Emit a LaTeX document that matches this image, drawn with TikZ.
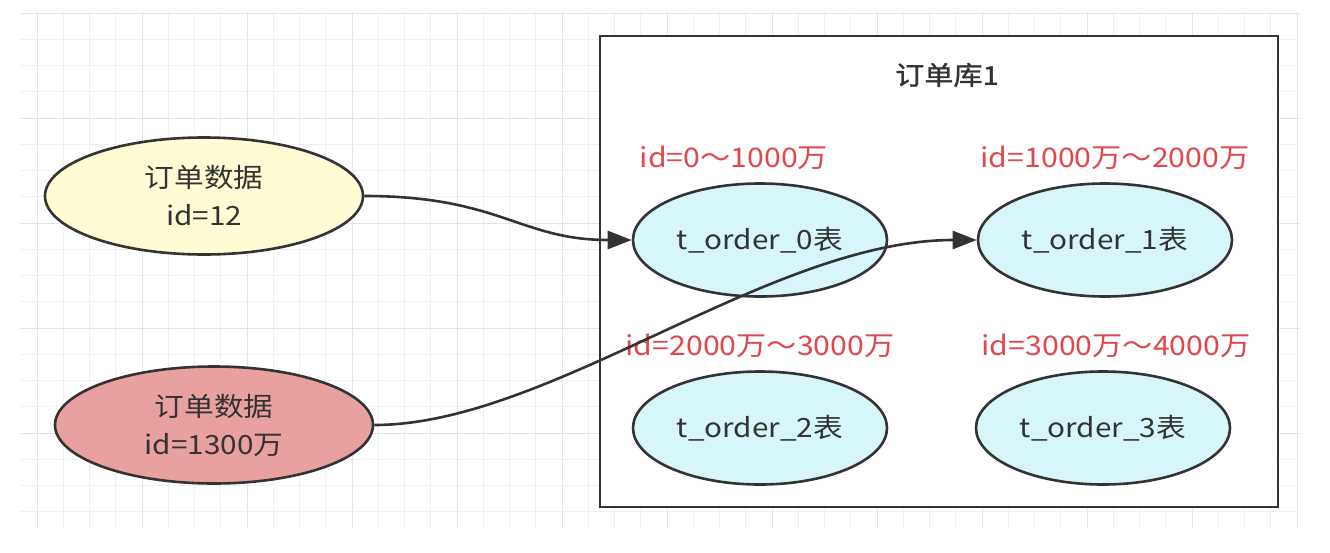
\documentclass[tikz,border=0pt]{standalone}
\usepackage{fontspec}
\setmainfont{Noto Sans CJK SC}[FakeStretch=1.12]
\newfontfamily\titlefont{Noto Sans CJK SC}[FakeStretch=1.12,FakeBold=1.2]
\usetikzlibrary{shapes.geometric,arrows.meta}
\definecolor{ink}{HTML}{333333}
\definecolor{redtxt}{HTML}{E0484E}
\definecolor{yellowfill}{HTML}{FFFBD2}
\definecolor{redfill}{HTML}{E8A0A0}
\definecolor{cyanfill}{HTML}{D6F6FA}
\definecolor{gridminor}{HTML}{F0F0F0}
\definecolor{gridmajor}{HTML}{E4E4E4}
\tikzset{
  oval/.style={ellipse,draw=ink,line width=2.6pt,inner sep=0pt,text=ink,align=center,
    font=\fontsize{26.5}{38}\selectfont},
  dataoval/.style={oval,minimum width=318pt,minimum height=117pt},
  taboval/.style={oval,minimum width=254pt,minimum height=113pt},
  rangelbl/.style={text=redtxt,font=\fontsize{27}{30}\selectfont,inner sep=0pt},
  flow/.style={draw=ink,line width=2.6pt,-{Triangle[length=24pt,width=18pt]}},
}
\begin{document}
\begin{tikzpicture}[x=1pt,y=-1pt]
\useasboundingbox (0,0) rectangle (1330,552);
\fill[white] (0,0) rectangle (1330,552);
% grid
\foreach \k in {0,...,48} {
  \pgfmathtruncatemacro{\m}{mod(\k,4)}
  \ifnum\m=0 \def\gc{gridmajor}\else\def\gc{gridminor}\fi
  \draw[\gc,line width=1pt] ({37+26.25*\k},12) -- ({37+26.25*\k},528);
}
\foreach \k in {0,...,19} {
  \pgfmathtruncatemacro{\m}{mod(\k,4)}
  \ifnum\m=0 \def\gc{gridmajor}\else\def\gc{gridminor}\fi
  \draw[\gc,line width=1pt] (20,{13+26.25*\k}) -- (1300,{13+26.25*\k});
}
% database box
\node[draw=ink,fill=white,line width=2.6pt,minimum width=678pt,minimum height=471pt,inner sep=0pt] (db) at (939,271.5) {};
\node[text=ink,font=\fontsize{26}{30}\titlefont,inner sep=0pt] (title) at (947,75) {订单库1};
% data ovals
\node[dataoval,fill=yellowfill] (d1) at (204,196) {订单数据\\id=12};
\node[dataoval,fill=redfill] (d2) at (214,425) {订单数据\\id=1300万};
% table ovals
\node[taboval,fill=cyanfill] (t0) at (760,240) {t\_order\_0表};
\node[taboval,fill=cyanfill] (t1) at (1105,240) {t\_order\_1表};
\node[taboval,fill=cyanfill] (t2) at (760,428) {t\_order\_2表};
\node[taboval,fill=cyanfill] (t3) at (1103,428) {t\_order\_3表};
% range labels
\node[rangelbl] (r0) at (734,158) {id=0～1000万};
\node[rangelbl] (r1) at (1115,158) {id=1000万～2000万};
\node[rangelbl] (r2) at (760,346) {id=2000万～3000万};
\node[rangelbl] (r3) at (1116,346) {id=3000万～4000万};
% connectors
\draw[flow] (d1.east) .. controls (500,196) and (520,240) .. (t0.west);
\draw[flow] (d2.east) .. controls (550,425) and (770,240) .. (t1.west);
\end{tikzpicture}
\end{document}
